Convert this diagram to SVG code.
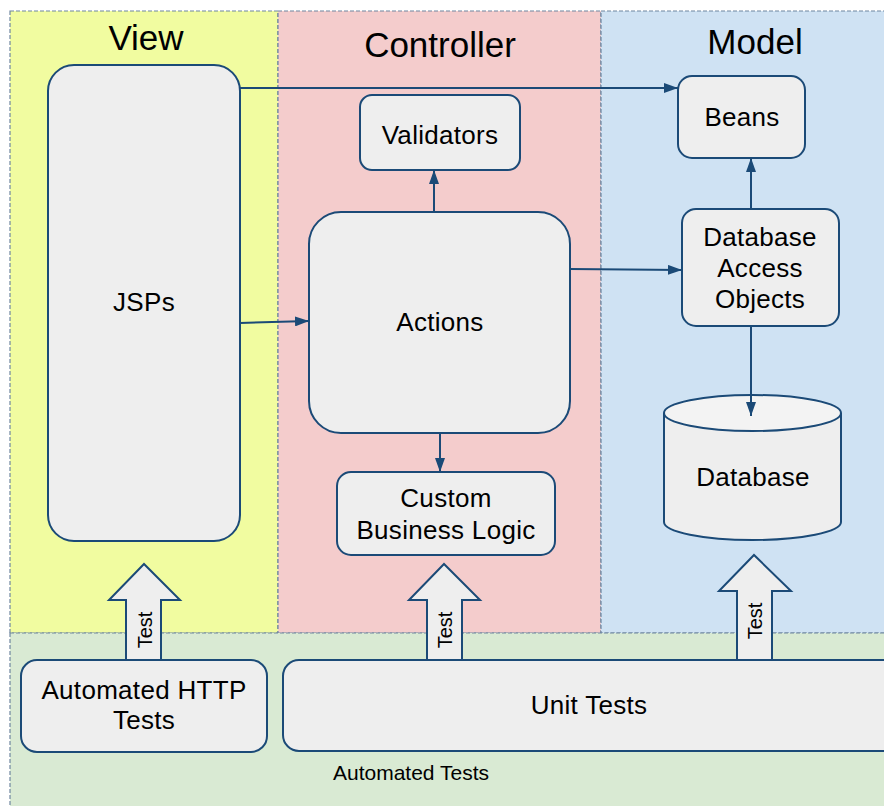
<svg xmlns="http://www.w3.org/2000/svg" width="884" height="806" viewBox="0 0 884 806">
<style>
.lane{stroke:#6f86a0;stroke-width:1.2;stroke-dasharray:4 2}
.node{fill:#eeeeee;stroke:#1b4a77;stroke-width:2}
.t{font-family:"Liberation Sans",Arial,sans-serif;fill:#000;text-anchor:middle}
.title{font-size:35px}
.lbl{font-size:26px;letter-spacing:0.3px}
.tst{font-size:20px}
.edge{stroke:#1b4a77;stroke-width:2;fill:none;marker-end:url(#ah)}
</style>
<defs>
<marker id="ah" viewBox="0 0 14 10" refX="14" refY="5" markerWidth="14" markerHeight="10" markerUnits="userSpaceOnUse" orient="auto">
<path d="M0,0 L14,5 L0,10 z" fill="#1b4a77"/>
</marker>
</defs>
<rect width="884" height="806" fill="#ffffff"/>
<g id="lane-view"><rect class="lane" x="10" y="11" width="268" height="622" fill="#f1fca0"/><text class="t title" x="146" y="50">View</text></g>
<g id="lane-controller"><rect class="lane" x="278" y="11" width="323" height="622" fill="#f4cccc"/><text class="t title" x="440" y="57">Controller</text></g>
<g id="lane-model"><rect class="lane" x="601" y="11" width="290" height="622" fill="#cfe2f3"/><text class="t title" x="755" y="54">Model</text></g>
<g id="lane-tests"><rect class="lane" x="10" y="633" width="881" height="180" fill="#d9ead3"/><text class="t" style="font-size:21px" x="411" y="780">Automated Tests</text></g>

<g id="jsps"><rect class="node" x="48" y="65" width="192" height="476" rx="26"/><text class="t lbl" x="144" y="311">JSPs</text></g>
<g id="validators"><rect class="node" x="360" y="95" width="160" height="75" rx="12"/><text class="t lbl" x="440" y="144">Validators</text></g>
<g id="actions"><rect class="node" x="309" y="212" width="261" height="221" rx="32"/><text class="t lbl" x="440" y="331">Actions</text></g>
<g id="custom"><rect class="node" x="337" y="472" width="218" height="83" rx="14"/><text class="t lbl" x="446" y="507">Custom</text><text class="t lbl" x="446" y="539">Business Logic</text></g>
<g id="beans"><rect class="node" x="678" y="76" width="127" height="82" rx="14"/><text class="t lbl" x="742" y="126">Beans</text></g>
<g id="dao"><rect class="node" x="682" y="209" width="157" height="117" rx="14"/><text class="t lbl" x="760" y="246">Database</text><text class="t lbl" x="760" y="277">Access</text><text class="t lbl" x="760" y="308">Objects</text></g>
<g id="database">
<path class="node" d="M664,413 L664,522 A88.5,18 0 0 0 841,522 L841,413"/>
<ellipse cx="752.5" cy="413" rx="88.5" ry="18" fill="#f3f3f3" stroke="#1b4a77" stroke-width="2"/>
<text class="t lbl" x="753" y="486">Database</text>
</g>

<g id="test-view"><path class="node" d="M126,660 L126,600 L109,600 L144,564 L180,600 L161,600 L161,660"/><text class="t tst" transform="translate(152,630) rotate(-90)">Test</text></g>
<g id="test-controller"><path class="node" d="M427,660 L427,600 L409,600 L444,564 L480,600 L462,600 L462,660"/><text class="t tst" transform="translate(452,630) rotate(-90)">Test</text></g>
<g id="test-model"><path class="node" d="M737,660 L737,591 L719,591 L754,555 L791,591 L772,591 L772,660"/><text class="t tst" transform="translate(762,621) rotate(-90)">Test</text></g>

<g id="http-tests"><rect class="node" x="21" y="660" width="246" height="92" rx="16"/><text class="t lbl" x="144" y="699">Automated HTTP</text><text class="t lbl" x="144" y="729">Tests</text></g>
<g id="unit-tests"><rect class="node" x="283" y="660" width="620" height="91" rx="16"/><text class="t lbl" x="589" y="714">Unit Tests</text></g>

<g id="connectors">
<line class="edge" x1="240" y1="88" x2="678" y2="88"/>
<line class="edge" x1="240" y1="323" x2="309" y2="321"/>
<line class="edge" x1="434" y1="212" x2="434" y2="170"/>
<line class="edge" x1="440" y1="433" x2="440" y2="472"/>
<line class="edge" x1="570" y1="269" x2="682" y2="270"/>
<line class="edge" x1="751" y1="209" x2="751" y2="158"/>
<line class="edge" x1="751" y1="326" x2="751" y2="416"/>
</g>
</svg>
